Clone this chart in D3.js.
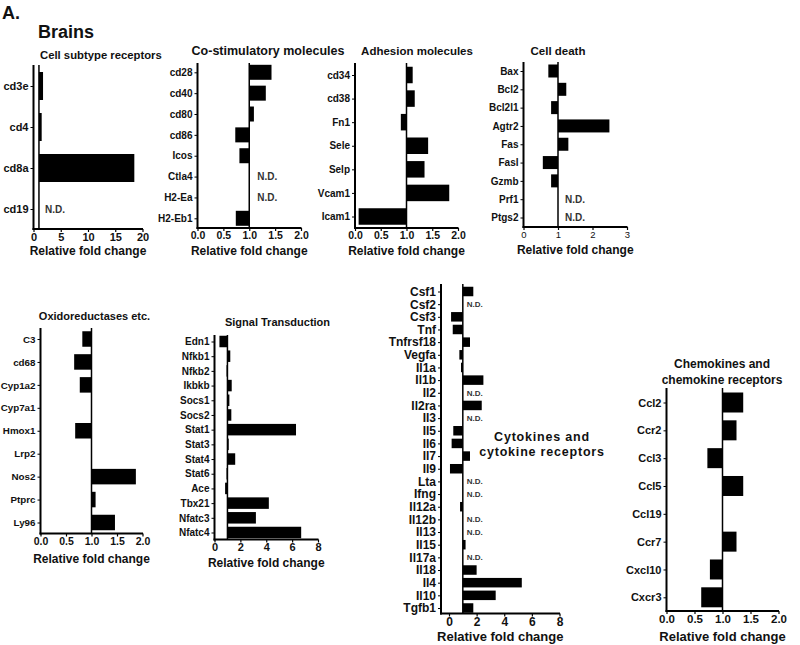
<!DOCTYPE html>
<html><head><meta charset="utf-8">
<script src="https://cdn.jsdelivr.net/npm/d3@7"></script>
<style>
body{margin:0;background:#fff}
svg{display:block}
text{font-family:"Liberation Sans",Arial,Helvetica,sans-serif;fill:#111}
</style>
</head><body>
<svg id="c" width="800" height="645"></svg>
<script>
const ND = "N.D.";

// ---------- DATA ----------
const subtypeGenes = ["cd3e","cd4","cd8a","cd19"];
const subtypeValues = [1.75, 1.5, 18.5, ND];

const costimGenes = ["cd28","cd40","cd80","cd86","Icos","Ctla4","H2-Ea","H2-Eb1"];
const costimValues = [1.43, 1.32, 1.09, 0.73, 0.81, ND, ND, 0.74];

const adhesionGenes = ["cd34","cd38","Fn1","Sele","Selp","Vcam1","Icam1"];
const adhesionValues = [1.12, 1.16, 0.89, 1.42, 1.35, 1.83, 0.07];

const deathGenes = ["Bax","Bcl2","Bcl2l1","Agtr2","Fas","Fasl","Gzmb","Prf1","Ptgs2"];
const deathValues = [0.72, 1.24, 0.80, 2.49, 1.30, 0.56, 0.80, ND, ND];

const oxidoGenes = ["C3","cd68","Cyp1a2","Cyp7a1","Hmox1","Lrp2","Nos2","Ptprc","Ly96"];
const oxidoValues = [0.82, 0.66, 0.77, 1.0, 0.68, 1.0, 1.87, 1.08, 1.46];

const signalGenes = ["Edn1","Nfkb1","Nfkb2","Ikbkb","Socs1","Socs2","Stat1","Stat3","Stat4","Stat6","Ace","Tbx21","Nfatc3","Nfatc4"];
const signalValues = [0.38, 1.22, 0.93, 1.33, 1.15, 1.30, 6.3, 1.10, 1.60, 0.93, 0.82, 4.2, 3.2, 6.7];

const cytoGenes = ["Csf1","Csf2","Csf3","Tnf","Tnfrsf18","Vegfa","Il1a","Il1b","Il2","Il2ra","Il3","Il5","Il6","Il7","Il9","Lta","Ifng","Il12a","Il12b","Il13","Il15","Il17a","Il18","Il4","Il10","Tgfb1"];
const cytoValues = [1.76, ND, 0.15, 0.27, 1.52, 0.75, 0.87, 2.49, ND, 2.37, ND, 0.31, 0.19, 1.52, 0.07, ND, ND, 0.80, ND, ND, 1.20, ND, 2.0, 5.27, 3.38, 1.76];

const chemoGenes = ["Ccl2","Ccr2","Ccl3","Ccl5","Ccl19","Ccr7","Cxcl10","Cxcr3"];
const chemoValues = [1.37, 1.25, 0.73, 1.37, 1.0, 1.25, 0.775, 0.62];

// tick labels
const ticks20 = [0,5,10,15,20];
const ticks2 = [0,0.5,1,1.5,2];
const ticks3 = [0,1,2,3];
const ticks8 = [0,2,4,6,8];
const xAxisLabel = "Relative fold change";

// ---------- DRAW ----------
const svg = d3.select("#c");

svg.append("text").attr("x",2).attr("y",19).attr("font-size",18).attr("font-weight","bold").text("A.");
svg.append("text").attr("x",38).attr("y",38).attr("font-size",18).attr("font-weight","bold").text("Brains");

function drawPanel(p) {
  const g = svg.append("g");
  const x = d3.scaleLinear().domain(p.domain).range(p.xRange);
  const y = d3.scalePoint().domain(p.genes).range(p.yRange);
  const base = x(1);
  const axisX = p.axisX !== undefined ? p.axisX : p.xRange[0];
  const rows = p.genes.map((gene,i)=>({gene, v:p.values[i]}));

  g.selectAll("rect.bar").data(rows.filter(d=>typeof d.v === "number"))
    .join("rect").attr("class","bar")
    .attr("x", d=>Math.min(x(d.v), base))
    .attr("width", d=>Math.abs(x(d.v)-base))
    .attr("y", d=>y(d.gene)-p.barH/2)
    .attr("height", p.barH)
    .attr("fill","#000");

  g.selectAll("text.nd").data(rows.filter(d=>d.v===ND))
    .join("text").attr("class","nd")
    .attr("x", base+p.ndDx).attr("y", d=>y(d.gene)).attr("dy","0.35em")
    .attr("font-size", p.ndSize).attr("font-weight","bold").style("fill","#333")
    .text(ND);

  // reference line at 1
  g.append("line").attr("x1",base).attr("x2",base).attr("y1",p.axisTop).attr("y2",p.axisBottom)
    .attr("stroke","#000").attr("stroke-width",1.5);

  // y axis
  const yg = g.append("g").attr("transform",`translate(${axisX},0)`)
    .call(d3.axisLeft(y).tickSize(3).tickPadding(2));
  yg.select(".domain").remove();
  yg.selectAll(".tick line").attr("stroke","#000").attr("stroke-width",1);
  yg.selectAll(".tick text").attr("font-size",p.labelSize).attr("font-weight","bold")
    .style("font-family",'"Liberation Sans",Arial,sans-serif').style("fill","#111");
  g.append("line").attr("x1",axisX).attr("x2",axisX).attr("y1",p.axisTop).attr("y2",p.axisBottom+1)
    .attr("stroke","#000").attr("stroke-width",2);

  // x axis
  const xg = g.append("g").attr("transform",`translate(0,${p.axisBottom})`)
    .call(d3.axisBottom(x).tickValues(p.ticks).tickFormat(d3.format(p.fmt)).tickSize(3).tickPadding(1));
  xg.select(".domain").remove();
  xg.selectAll(".tick line").attr("stroke","#000").attr("stroke-width",1.2);
  xg.selectAll(".tick text").attr("font-size",p.tickSize).attr("font-weight",p.tickWeight||"bold")
    .style("font-family",'"Liberation Sans",Arial,sans-serif').style("fill","#111");
  g.append("line").attr("x1",axisX-1).attr("x2",p.xRange[1]+0.5).attr("y1",p.axisBottom).attr("y2",p.axisBottom)
    .attr("stroke","#000").attr("stroke-width",2);

  // x label
  g.append("text").attr("x",(axisX+p.xRange[1])/2).attr("y",p.xlabelY)
    .attr("text-anchor","middle").attr("font-size",p.xlabelSize).attr("font-weight","bold")
    .text(xAxisLabel);

  // title
  p.title.forEach((t,i)=>{
    g.append("text").attr("x",p.titleX).attr("y",p.titleY+i*p.titleLead)
      .attr("text-anchor",p.titleAnchor||"middle").attr("font-size",p.titleSize)
      .attr("font-weight","bold").style("letter-spacing",(p.titleSpacing||0)+"px").text(t);
  });
}

const panels = [
  {genes:subtypeGenes, values:subtypeValues, domain:[0,20], xRange:[33.5,142.5], yRange:[86,209],
   axisTop:65, axisBottom:229, barH:28, ticks:ticks20, fmt:"d", tickSize:11, labelSize:11,
   ndDx:6, ndSize:10, xlabelY:255, xlabelSize:12,
   title:["Cell subtype receptors"], titleX:40, titleAnchor:"start", titleY:59, titleSize:11.3, titleLead:0},
  {genes:costimGenes, values:costimValues, domain:[0,2], xRange:[197.5,301], yRange:[72.3,218.3],
   axisTop:63, axisBottom:228, barH:15, ticks:ticks2, fmt:".1f", tickSize:10.5, labelSize:10,
   ndDx:8, ndSize:10, xlabelY:255, xlabelSize:12,
   title:["Co-stimulatory molecules"], titleX:268, titleY:55, titleSize:12.5, titleLead:0},
  {genes:adhesionGenes, values:adhesionValues, domain:[0,2], xRange:[355,458], yRange:[75,216.5],
   axisTop:63, axisBottom:228, barH:16.5, ticks:ticks2, fmt:".1f", tickSize:10.5, labelSize:10,
   ndDx:8, ndSize:10, xlabelY:255, xlabelSize:12,
   title:["Adhesion molecules"], titleX:417, titleY:55, titleSize:11.5, titleLead:0},
  {genes:deathGenes, values:deathValues, domain:[0,3], xRange:[523.5,627], yRange:[71,217.5],
   axisTop:62, axisBottom:227, barH:13, ticks:ticks3, fmt:"d", tickSize:9.5, tickWeight:"normal", labelSize:10,
   ndDx:7, ndSize:10, xlabelY:254, xlabelSize:12,
   title:["Cell death"], titleX:558, titleY:55, titleSize:11.5, titleLead:0},
  {genes:oxidoGenes, values:oxidoValues, domain:[0,2], xRange:[40.5,142.5], yRange:[339,522.5],
   axisTop:328, axisBottom:533.5, barH:15.5, ticks:ticks2, fmt:".1f", tickSize:10.5, labelSize:9.8,
   ndDx:8, ndSize:10, xlabelY:563, xlabelSize:12,
   title:["Oxidoreductases etc."], titleX:94.5, titleY:320, titleSize:11, titleLead:0},
  {genes:signalGenes, values:signalValues, domain:[0,8], xRange:[214.5,318], yRange:[341.5,532.5],
   axisTop:335, axisBottom:539.5, barH:11.5, ticks:ticks8, fmt:"d", tickSize:11, labelSize:10,
   ndDx:8, ndSize:10, xlabelY:567, xlabelSize:12,
   title:["Signal Transduction"], titleX:277.5, titleY:326, titleSize:11, titleLead:0},
  {genes:cytoGenes, values:cytoValues, domain:[0,8], xRange:[449,559.5], axisX:441, yRange:[291.5,608],
   axisTop:284, axisBottom:613.5, barH:9.5, ticks:ticks8, fmt:"d", tickSize:12, labelSize:12,
   ndDx:4, ndSize:8, xlabelY:641, xlabelSize:13,
   title:["Cytokines and","cytokine receptors"], titleX:542, titleY:441, titleSize:12.5, titleLead:15, titleSpacing:0.8},
  {genes:chemoGenes, values:chemoValues, domain:[0,2], xRange:[666.5,778.5], yRange:[402.5,597.3],
   axisTop:388, axisBottom:611, barH:20, ticks:ticks2, fmt:".1f", tickSize:11.5, labelSize:11,
   ndDx:8, ndSize:10, xlabelY:641, xlabelSize:13,
   title:["Chemokines and","chemokine receptors"], titleX:722, titleY:368, titleSize:12, titleLead:16}
];
panels.forEach(drawPanel);
</script>
</body></html>
